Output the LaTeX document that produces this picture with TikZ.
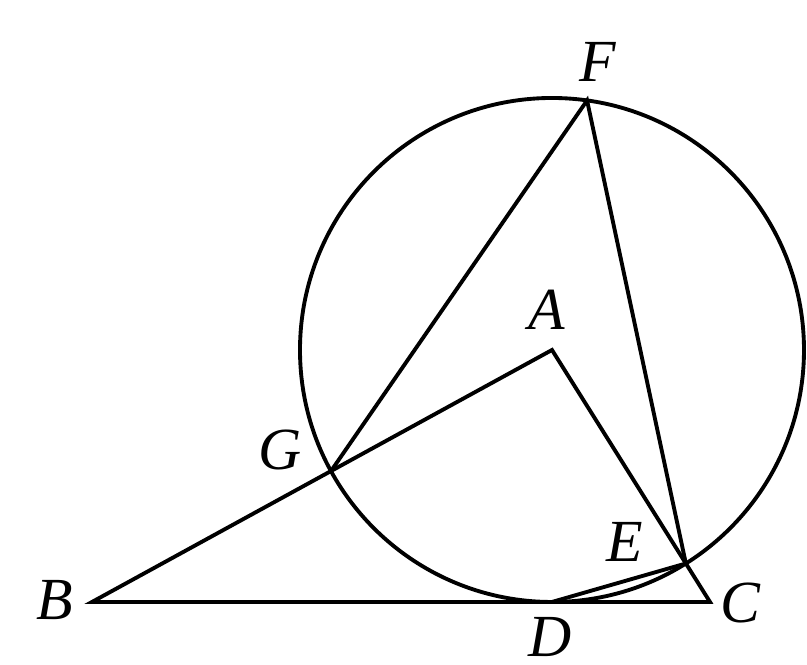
\documentclass[tikz,border=0pt]{standalone}
\usepackage{fontspec}
\setmainfont{Liberation Serif}
\usetikzlibrary{calc}
\begin{document}
\begin{tikzpicture}[line width=1.1pt,
    lbl/.style={font=\fontsize{17}{20}\selectfont\itshape, inner sep=0pt}]
    \useasboundingbox (0,0) rectangle (8.07,6.65);
    \coordinate (A) at (5.52,3.15);
    \coordinate (B) at (0.92,0.63);
    \coordinate (C) at (7.10,0.63);
    \coordinate (D) at (5.52,0.63);
    \coordinate (G) at ($(A)!2.52cm!(B)$);
    \coordinate (E) at ($(A)!2.52cm!(C)$);
    \coordinate (F) at ($(A)+(82:2.52)$);
    \draw (A) circle (2.52);
    \draw (B) -- (C) -- (A) -- cycle;
    \draw (G) -- (F) -- (E) -- (D);
    \node[lbl] (lF) at (5.98,6.03) {F};
    \node[lbl] (lA) at (5.47,3.55) {A};
    \node[lbl] (lG) at (2.80,2.15) {G};
    \node[lbl] (lE) at (6.25,1.23) {E};
    \node[lbl] (lB) at (0.55,0.65) {B};
    \node[lbl] (lC) at (7.40,0.62) {C};
    \node[lbl] (lD) at (5.50,0.28) {D};
\end{tikzpicture}
\end{document}
